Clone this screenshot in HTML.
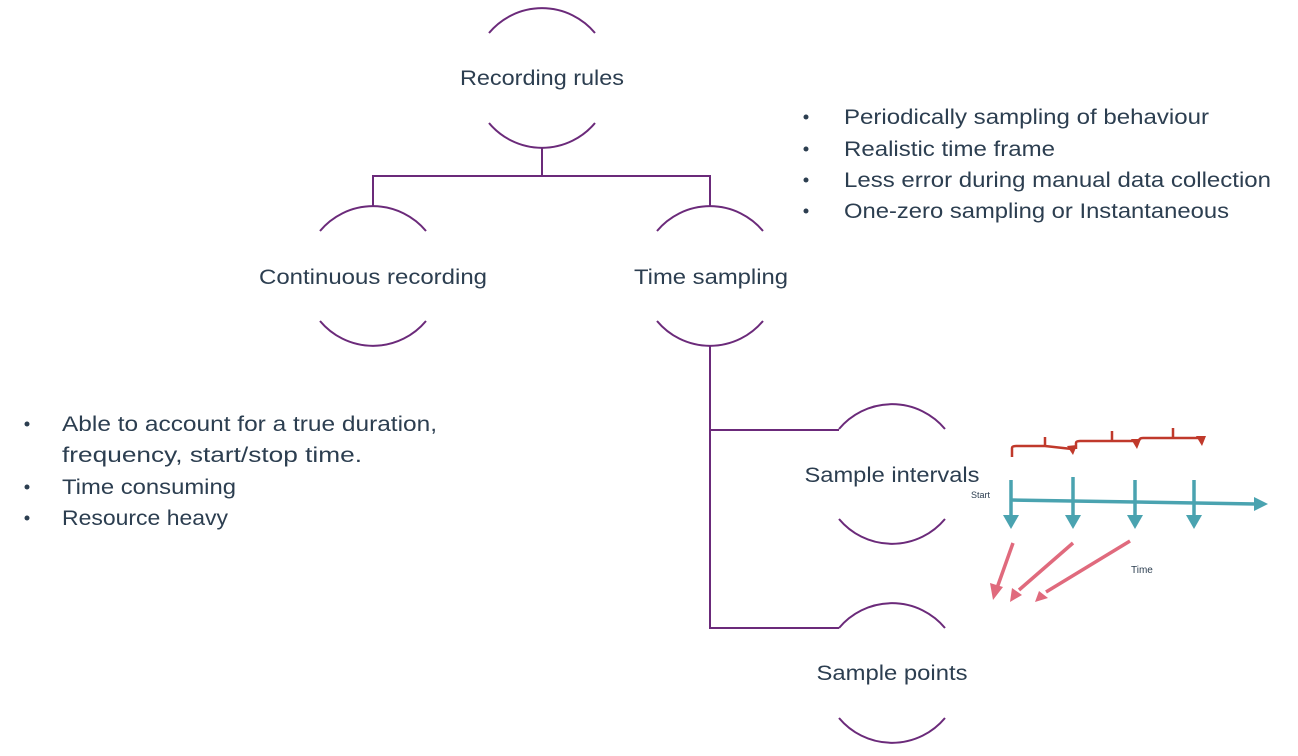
<!DOCTYPE html>
<html><head><meta charset="utf-8"><style>
html,body{margin:0;padding:0;background:#fff;}
svg{display:block;}
text{font-family:"Liberation Sans",sans-serif;fill:#2c3e50;font-size:21px;}
</style></head><body>
<svg width="1298" height="756" viewBox="0 0 1298 756">
<g fill="none" stroke="#6b2a7a" stroke-width="2">
<!-- arcs: center cx,cy r 69 -->
<path d="M489,33 A69,69 0 0 1 595,33"/><path d="M489,123 A69,69 0 0 0 595,123"/>
<path d="M320,231 A69,69 0 0 1 426,231"/><path d="M320,321 A69,69 0 0 0 426,321"/>
<path d="M657,231 A69,69 0 0 1 763,231"/><path d="M657,321 A69,69 0 0 0 763,321"/>
<path d="M839,429 A69,69 0 0 1 945,429"/><path d="M839,519 A69,69 0 0 0 945,519"/>
<path d="M839,628 A69,69 0 0 1 945,628"/><path d="M839,718 A69,69 0 0 0 945,718"/>
<path d="M542,148 V176 M373,206 V176 H710 V206"/>
<path d="M710,346 V628 H839 M710,430 H839"/>
</g>
<text x="542" y="85" text-anchor="middle" textLength="164" lengthAdjust="spacingAndGlyphs">Recording rules</text>
<text x="373" y="284" text-anchor="middle" textLength="228" lengthAdjust="spacingAndGlyphs">Continuous recording</text>
<text x="711" y="284" text-anchor="middle" textLength="154" lengthAdjust="spacingAndGlyphs">Time sampling</text>
<text x="892" y="482" text-anchor="middle" textLength="175" lengthAdjust="spacingAndGlyphs">Sample intervals</text>
<text x="892" y="680" text-anchor="middle" textLength="151" lengthAdjust="spacingAndGlyphs">Sample points</text>
<g>
<circle cx="806" cy="117" r="2.5" fill="#2c3e50"/><text x="844" y="124" textLength="365" lengthAdjust="spacingAndGlyphs">Periodically sampling of behaviour</text>
<circle cx="806" cy="149" r="2.5" fill="#2c3e50"/><text x="844" y="156" textLength="211" lengthAdjust="spacingAndGlyphs">Realistic time frame</text>
<circle cx="806" cy="180" r="2.5" fill="#2c3e50"/><text x="844" y="187" textLength="427" lengthAdjust="spacingAndGlyphs">Less error during manual data collection</text>
<circle cx="806" cy="211" r="2.5" fill="#2c3e50"/><text x="844" y="218" textLength="385" lengthAdjust="spacingAndGlyphs">One-zero sampling or Instantaneous</text>
<circle cx="27" cy="424" r="2.5" fill="#2c3e50"/><text x="62" y="431" textLength="375" lengthAdjust="spacingAndGlyphs">Able to account for a true duration,</text>
<text x="62" y="462" textLength="300" lengthAdjust="spacingAndGlyphs">frequency, start/stop time.</text>
<circle cx="27" cy="487" r="2.5" fill="#2c3e50"/><text x="62" y="494" textLength="174" lengthAdjust="spacingAndGlyphs">Time consuming</text>
<circle cx="27" cy="518" r="2.5" fill="#2c3e50"/><text x="62" y="525" textLength="166" lengthAdjust="spacingAndGlyphs">Resource heavy</text>
</g>
<!-- timeline -->
<g stroke="#4aa3b0" stroke-width="3.5" fill="none">
<path d="M1011,500 L1256,504"/>
<path d="M1011,480 V516 M1073,477 V516 M1135,480 V516 M1194,480 V516"/>
</g>
<g fill="#4aa3b0">
<path d="M1003,515 H1019 L1011,529Z"/><path d="M1065,515 H1081 L1073,529Z"/>
<path d="M1127,515 H1143 L1135,529Z"/><path d="M1186,515 H1202 L1194,529Z"/>
<path d="M1254,497 L1268,504 L1254,511Z"/>
</g>
<text x="971" y="498" style="font-size:9px">Start</text>
<text x="1131" y="573" style="font-size:10px">Time</text>
<!-- red braces -->
<g stroke="#c0392b" stroke-width="2.5" fill="none">
<path d="M1012,457 V448 Q1012,446 1016,446 H1045 V437 M1045,446 L1072,449"/>
<path d="M1076,449 V443 Q1076,441 1080,441 H1112 V431 M1112,441 H1135"/>
<path d="M1139,441 Q1139,438 1143,438 H1173 V428 M1173,438 H1200"/>
</g>
<g fill="#c0392b">
<path d="M1067,446 L1077,445 L1073,455Z"/><path d="M1131,439 L1141,439 L1137,449Z"/><path d="M1196,436 L1206,436 L1202,446Z"/>
</g>
<!-- pink arrows -->
<g stroke="#e06a7d" stroke-width="3.5" fill="none">
<path d="M1013,543 L997,588"/><path d="M1073,543 L1019,590"/><path d="M1130,541 L1046,592"/>
</g>
<g fill="#e06a7d">
<path d="M990,583 L1003,587 L993,600Z"/><path d="M1012,588 L1022,595 L1010,602Z"/><path d="M1039,591 L1048,598 L1035,602Z"/>
</g>
</svg>
</body></html>
